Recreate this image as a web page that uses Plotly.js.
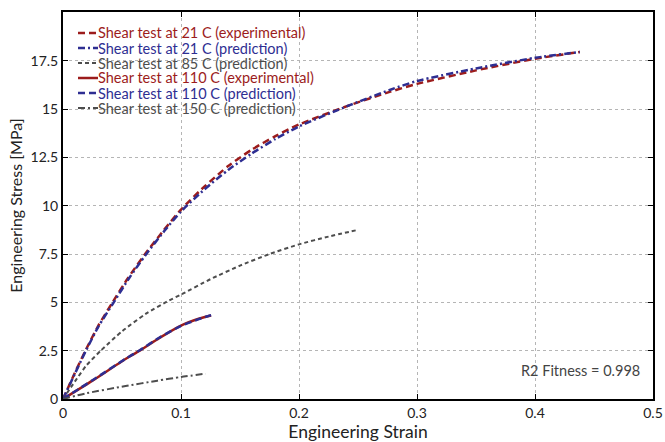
<!DOCTYPE html>
<html>
<head>
<meta charset="utf-8">
<script src="https://cdn.plot.ly/plotly-3.0.1.min.js"></script>
<style>html,body{margin:0;padding:0;background:#fff;}#chart{width:665px;height:442px;}</style>
</head>
<body>
<div id="chart"></div>
<script>
// Data
const strain21Exp = [0, 0.01, 0.019, 0.03, 0.042, 0.055, 0.069, 0.085, 0.1, 0.12, 0.14, 0.16, 0.18, 0.2, 0.243, 0.2775, 0.3, 0.35, 0.4, 0.438];
const stress21Exp = [0, 1.35, 2.5, 3.8, 5.0, 6.25, 7.45, 8.7, 9.8, 11.0, 12.05, 12.9, 13.6, 14.2, 15.2, 15.9, 16.3, 17.0, 17.6, 17.95];
const strain21Pred = [0, 0.01, 0.019, 0.03, 0.043, 0.056, 0.07, 0.086, 0.1, 0.12, 0.14, 0.16, 0.18, 0.2, 0.243, 0.2775, 0.3, 0.35, 0.4, 0.438];
const stress21Pred = [0, 1.3, 2.45, 3.75, 5.0, 6.25, 7.45, 8.7, 9.7, 10.85, 11.85, 12.7, 13.45, 14.1, 15.2, 16.0, 16.45, 17.1, 17.65, 17.95];
const strain85Pred = [0, 0.01, 0.02, 0.032, 0.05, 0.07, 0.09, 0.1, 0.125, 0.15, 0.175, 0.2, 0.225, 0.25];
const stress85Pred = [0, 0.9, 1.75, 2.5, 3.5, 4.4, 5.1, 5.4, 6.2, 6.9, 7.5, 8.0, 8.4, 8.75];
const strain110Exp = [0, 0.025, 0.053, 0.065, 0.0815, 0.1, 0.115, 0.1255];
const stress110Exp = [0, 0.95, 2.07, 2.5, 3.15, 3.8, 4.15, 4.32];
const strain110Pred = [0, 0.025, 0.053, 0.065, 0.0815, 0.1, 0.115, 0.1255];
const stress110Pred = [0, 0.97, 2.08, 2.52, 3.17, 3.78, 4.13, 4.34];
const strain150Pred = [0, 0.02, 0.053, 0.08, 0.1, 0.121];
const stress150Pred = [0, 0.3, 0.67, 0.95, 1.14, 1.31];

const seriesNames = [
  'Shear test at 21 C (experimental)',
  'Shear test at 21 C (prediction)',
  'Shear test at 85 C (prediction)',
  'Shear test at 110 C (experimental)',
  'Shear test at 110 C (prediction)',
  'Shear test at 150 C (prediction)'
];
const xTicks = [0, 0.1, 0.2, 0.3, 0.4, 0.5];
const xTickText = ['0', '0.1', '0.2', '0.3', '0.4', '0.5'];
const yTicks = [0, 2.5, 5, 7.5, 10, 12.5, 15, 17.5];
const yTickText = ['0', '2.5', '5', '7.5', '10', '12.5', '15', '17.5'];
const fitnessLabel = 'R2 Fitness = 0.998';

const RED = '#9c1c1c';
const BLUE = '#2e2e92';
const GRAY = '#4d4d4d';

const styles = [
  {color: RED, dash: '7px,4px', width: 2.5},
  {color: BLUE, dash: '7px,3px,2px,3px', width: 2.5},
  {color: GRAY, dash: '4px,3px', width: 2},
  {color: RED, dash: 'solid', width: 2.5},
  {color: BLUE, dash: '7px,4px', width: 2.5},
  {color: GRAY, dash: '7px,3px,2px,3px', width: 2}
];

const xs = [strain21Exp, strain21Pred, strain85Pred, strain110Exp, strain110Pred, strain150Pred];
const ys = [stress21Exp, stress21Pred, stress85Pred, stress110Exp, stress110Pred, stress150Pred];

const traces = xs.map((x, i) => ({
  x: x, y: ys[i], type: 'scatter', mode: 'lines', name: seriesNames[i],
  line: {color: styles[i].color, dash: styles[i].dash, width: styles[i].width, shape: 'spline', smoothing: 0.6},
  showlegend: false, hoverinfo: 'skip'
}));

// Custom legend (layout-level annotations and sample lines)
const L = 63, R = 653, T = 12, B = 399;
const rowPx = [33, 48, 63, 78, 93, 108];
const px2x = p => (p - L) / (R - L);
const px2y = p => (B - p) / (B - T);
const annotations = [];
const shapes = [];
rowPx.forEach((py, i) => {
  shapes.push({type: 'line', xref: 'paper', yref: 'paper', x0: px2x(78), x1: px2x(98), y0: px2y(py), y1: px2y(py),
    line: {color: styles[i].color, width: styles[i].width, dash: styles[i].dash}});
  annotations.push({xref: 'paper', yref: 'paper', x: px2x(97), y: px2y(py), xanchor: 'left', yanchor: 'middle',
    text: seriesNames[i], showarrow: false, borderpad: 0,
    font: {family: 'Lato, sans-serif', size: 14.5, color: styles[i].color}});
});
annotations.push({xref: 'paper', yref: 'paper', x: px2x(642), y: px2y(370), xanchor: 'right', yanchor: 'middle',
  text: fitnessLabel, showarrow: false, font: {family: 'Lato, sans-serif', size: 14.5, color: '#444'}});

const axisCommon = {
  showline: true, linecolor: '#000', linewidth: 2, mirror: 'ticks',
  ticks: 'inside', ticklen: 5, tickcolor: '#000', tickwidth: 1,
  showgrid: true, gridcolor: '#b5b5b5', griddash: 'dot', gridwidth: 1,
  zeroline: false, tickfont: {family: 'Lato, sans-serif', size: 14, color: '#222'}
};

const layout = {
  width: 665, height: 442,
  margin: {l: L, r: 665 - R, t: T, b: 442 - B},
  paper_bgcolor: '#fff', plot_bgcolor: '#fff',
  showlegend: false,
  xaxis: Object.assign({}, axisCommon, {
    range: [0, 0.5], tickmode: 'array', tickvals: xTicks, ticktext: xTickText,
    title: {text: 'Engineering Strain', font: {family: 'Lato, sans-serif', size: 17.5, color: '#222'}, standoff: 5}
  }),
  yaxis: Object.assign({}, axisCommon, {
    range: [0, 20.02], tickmode: 'array', tickvals: yTicks, ticktext: yTickText,
    title: {text: 'Engineering Stress [MPa]', font: {family: 'Lato, sans-serif', size: 16, color: '#222'}, standoff: 4}
  }),
  annotations: annotations,
  shapes: shapes
};

Plotly.newPlot('chart', traces, layout, {staticPlot: true, displayModeBar: false});
</script>
</body>
</html>
